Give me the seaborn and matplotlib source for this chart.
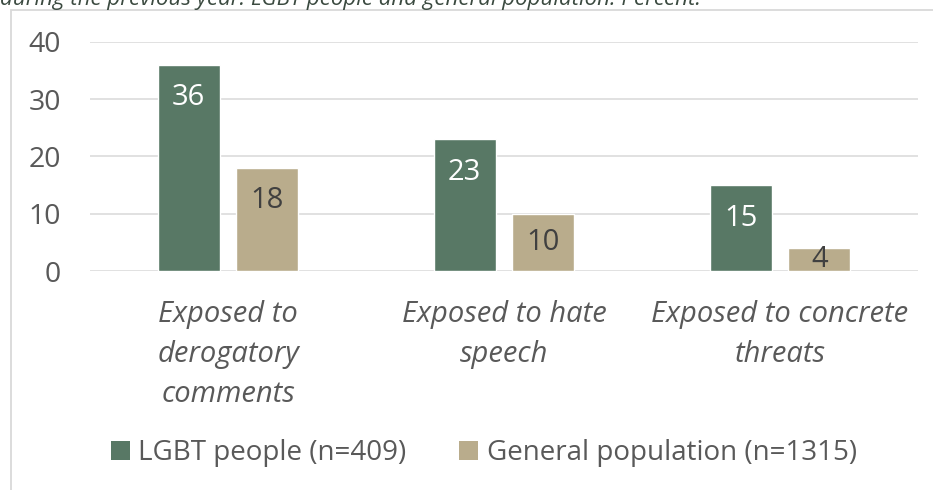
import matplotlib
matplotlib.use("Agg")
import matplotlib.pyplot as plt
import matplotlib.patches as mpatches
import pandas as pd
import seaborn as sns

# Share of respondents exposed to each kind of harassment (percent)
categories = [
    "Exposed to\nderogatory\ncomments",
    "Exposed to hate\nspeech",
    "Exposed to concrete\nthreats",
]
series_names = ["LGBT people (n=409)", "General population (n=1315)"]
lgbt_values = [36, 23, 15]
general_values = [18, 10, 4]
y_ticks = [0, 10, 20, 30, 40]
subtitle = "during the previous year. LGBT people and general population. Percent."

GREEN = "#587865"
TAN = "#B9AC8C"
TEXT = "#595959"
GRID = "#D9D9D9"

df = pd.DataFrame({
    "category": categories * 2,
    "group": [series_names[0]] * len(categories) + [series_names[1]] * len(categories),
    "value": lgbt_values + general_values,
})

sns.set_theme(style="white")
plt.rcParams["font.family"] = ["Open Sans", "DejaVu Sans"]

W, H = 933, 490
fig = plt.figure(figsize=(W / 100, H / 100), dpi=100)
ax = fig.add_axes([90 / W, (H - 271) / H, (918 - 90) / W, (271 - 42) / H])

sns.barplot(
    data=df, x="category", y="value", hue="group",
    order=categories, hue_order=series_names,
    palette=[GREEN, TAN], width=0.572, gap=0.215,
    saturation=1, ax=ax, legend=False,
)

ax.set_xlim(-0.5, len(categories) - 0.5)
ax.set_ylim(0, 40)
ax.set_yticks(y_ticks)
ax.set_xlabel("")
ax.set_ylabel("")
for s in ax.spines.values():
    s.set_visible(False)
ax.yaxis.grid(True, color=GRID, linewidth=1.1)
ax.set_axisbelow(True)
ax.tick_params(axis="y", length=0, pad=21, labelsize=20.5, labelcolor=TEXT)
ax.tick_params(axis="x", length=0, pad=21, labelcolor=TEXT)
for lbl in ax.get_xticklabels():
    lbl.set_fontsize(21)
    lbl.set_fontstyle("italic")
    lbl.set_linespacing(1.5)

# Value labels just inside the top of each bar (centred when the bar is short)
px_per_unit = (271 - 42) / 40
inset = 33 / px_per_unit
for container, colour in zip(ax.containers, ["white", "#404040"]):
    for bar in container:
        h = bar.get_height()
        y = max(h - inset, h / 2)
        ax.text(bar.get_x() + bar.get_width() / 2, y, f"{h:.0f}",
                ha="center", va="center", fontsize=21, color=colour)

# Legend with square swatches
handles = [mpatches.Patch(facecolor=c, edgecolor="none") for c in (GREEN, TAN)]
fig.legend(handles, series_names, loc="center",
           bbox_to_anchor=(484 / W, (H - 453) / H), ncol=2, frameon=False,
           fontsize=20, labelcolor=TEXT, handlelength=0.68, handleheight=0.68,
           handletextpad=0.3, columnspacing=1.9)

# Chart frame and the clipped subtitle line above it
frame = mpatches.Rectangle((10.5 / W, -0.1), 1.2, (H - 10) / H + 0.1,
                           transform=fig.transFigure, fill=False,
                           edgecolor=GRID, linewidth=1.3)
fig.add_artist(frame)
fig.text(0, (H - 5) / H, subtitle, fontsize=16, fontstyle="italic",
         color="#3B4A40", ha="left", va="baseline")

fig.savefig("out.png", dpi=100)
